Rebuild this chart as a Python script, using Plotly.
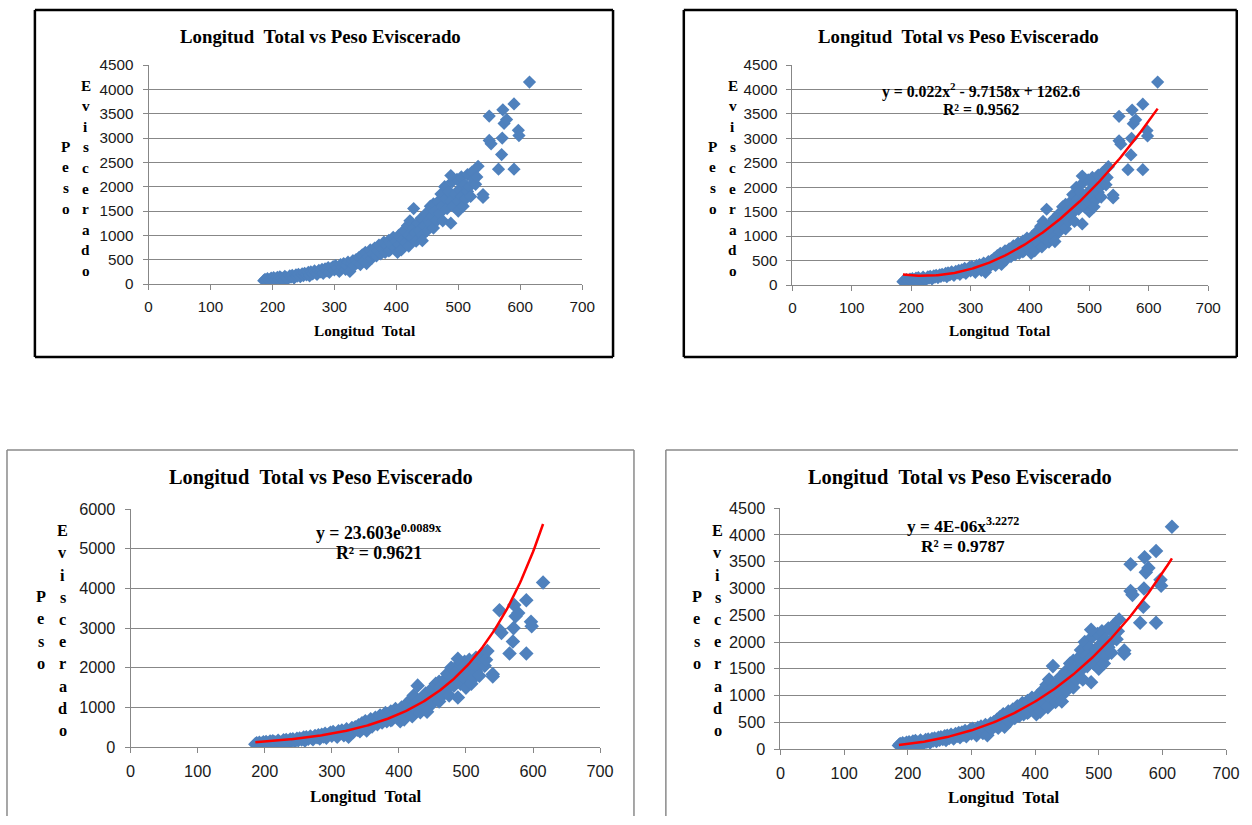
import numpy as np
import plotly.graph_objects as go

W, H = 1252, 825

# ---------------- data ----------------
longitud_total = [
    186, 188, 190, 192, 195, 198, 200, 202, 205, 208,
    210, 212, 215, 218, 220, 222, 225, 228, 230, 232,
    235, 238, 240, 242, 245, 248, 250,
    252, 255, 258, 260, 262, 265, 268, 270, 272, 275,
    278, 280, 282, 285, 288, 290, 292, 295, 298, 300,
    302, 305, 308, 310, 312, 315, 318, 320,
    322, 325, 328, 330, 332, 335, 338, 340, 342, 345,
    348, 350, 352, 355, 358, 360, 362, 365, 368, 370,
    372, 375, 378, 380, 382, 385, 388, 388, 390, 392,
    395, 398, 400,
    402, 404, 405, 408, 410, 412, 415, 418, 420, 420,
    422, 425, 428, 430, 432, 435, 438, 440, 442, 445,
    448, 450, 452, 455, 455, 458, 460, 460,
    462, 465, 468, 470, 472, 474, 475, 478, 480, 482,
    485, 488, 490, 492, 495, 498, 500, 500, 502, 505,
    505, 508, 510, 512, 515, 515, 518, 520, 522, 525,
    528, 530,
    428, 442, 488, 488, 532, 540, 540, 550, 550, 553,
    565, 570, 571, 572, 574, 578, 590, 590, 597, 598, 615,
]
peso_eviscerado = [
    70, 95, 60, 110, 85, 120, 75, 130, 100, 140,
    90, 150, 120, 80, 160, 130, 110, 170, 140, 180,
    125, 190, 160, 200, 150, 210, 175,
    220, 190, 240, 170, 250, 210, 270, 230, 200, 280,
    250, 300, 220, 310, 270, 340, 240, 320, 360, 290,
    380, 330, 260, 400, 350, 420, 300, 380,
    450, 260, 420, 480, 380, 500, 440, 550, 400, 600,
    480, 650, 420, 560, 700, 520, 620, 740, 580, 680,
    800, 620, 720, 860, 650, 780, 680, 900, 700, 820,
    960, 740, 880,
    650, 1000, 800, 700, 920, 1100, 850, 1200, 1000, 780,
    1300, 950, 1150, 1050, 880, 1250, 1100, 1350, 1000, 1200,
    1450, 1100, 1300, 1600, 1250, 1400, 1650, 1150,
    1500, 1300, 1700, 1450, 1850, 1600, 1300, 2000, 1750, 1550,
    1900, 1700, 2100, 1600, 1850, 2150, 1700, 1500, 1950, 2200,
    1800, 1600, 2050, 1750, 2250, 1900, 2000, 1800, 2300, 2150,
    2050, 2200,
    1550, 890, 2230, 1250, 2420, 1840, 1780, 3450, 2950, 2880,
    2360, 2660, 3000, 3580, 3300, 3380, 3700, 2360, 3160, 3050, 4150,
]

x_ticks = [0, 100, 200, 300, 400, 500, 600, 700]
y_ticks_4500 = [0, 500, 1000, 1500, 2000, 2500, 3000, 3500, 4000, 4500]
y_ticks_6000 = [0, 1000, 2000, 3000, 4000, 5000, 6000]

# trendline coefficients as shown in the chart
poly_coef = [0.022, -9.7158, 1262.6]
exp_a, exp_b = 23.603, 0.0089
pow_a, pow_b = 3.56e-6, 3.2272   # label shows rounded 4E-06

titulo = "Longitud\u00a0\u00a0Total vs Peso Eviscerado"
eje_x = "Longitud\u00a0\u00a0Total"
eje_y1 = "Peso"
eje_y2 = "Eviscerado"

eq_poly = ["y = 0.022x<sup>2</sup> - 9.7158x + 1262.6", "R\u00b2 = 0.9562"]
eq_exp = ["y = 23.603e<sup>0.0089x</sup>", "R\u00b2 = 0.9621"]
eq_pow = ["y = 4E-06x<sup>3.2272</sup>", "R\u00b2 = 0.9787"]

# ---------------- placement helpers ----------------
# positions below are given in picture pixels; the capture maps page pixels
# to picture pixels as  X = OX + SX*x,  Y = OY + SY*y  (measured), so invert it.
OX, OY, SX, SY = 5.0, 10.0, 0.988, 0.978
FS = 2.0 / (SX + SY)


def lx(x):
    return min(max((x - OX) / SX, 0.0), W)


def ly(y):
    return min(max((y - OY) / SY, 0.0), H)


def px(x):
    return lx(x) / W


def py(y):
    return 1 - ly(y) / H


xs = np.array(longitud_total, dtype=float)
xt = np.linspace(xs.min(), xs.max(), 200)
trend = {
    "poly": np.polyval(poly_coef, xt),
    "exp": exp_a * np.exp(exp_b * xt),
    "pow": pow_a * xt ** pow_b,
}

BLUE = "#4F81BD"
GRID = "#878787"
SERIF = "Liberation Serif"
SANS = "Liberation Sans"

panels = [
    dict(xd=(149, 584), yd=(285, 66), yr=4500, yt=y_ticks_4500, trend=None, eq=None,
         box=(35, 11, 615, 358), boxc="#000000", boxw=2.5,
         title=(322, 37, 18.5), xt=(366, 331, 15), tick=15,
         P=(66, 147, 20.7), E=(86, 86, 20.6), lf=15, msize=10),
    dict(xd=(795, 1212), yd=(286, 66), yr=4500, yt=y_ticks_4500, trend="poly", eq=(eq_poly, 984, 91, 110, 15.5),
         box=(686, 11, 1249, 358), boxc="#000000", boxw=2.5,
         title=(962, 37, 18.5), xt=(1003, 331, 15), tick=15,
         P=(715, 147, 20.7), E=(735, 86, 20.6), lf=15, msize=10),
    dict(xd=(131, 602), yd=(748, 510), yr=6000, yt=y_ticks_6000, trend="exp", eq=(eq_exp, 380, 533, 554, 17.5),
         box=(7, 451, 636, None), boxc="#8a8a8a", boxw=1.5,
         title=(322, 478, 20), xt=(367, 797, 16.5), tick=16,
         P=(41, 598, 22.3), E=(63, 532, 22.2), lf=16, msize=11),
    dict(xd=(783, 1230), yd=(750, 509), yr=4500, yt=y_ticks_4500, trend="pow", eq=(eq_pow, 966, 526, 547, 17),
         box=(668, 451, None, None), boxc="#8a8a8a", boxw=1.5,
         title=(963, 478, 20), xt=(1007, 798, 16.5), tick=16,
         P=(699, 598, 22.3), E=(720, 532, 22.2), lf=16, msize=11),
]

fig = go.Figure()
layout = dict(
    width=W, height=H, autosize=False,
    margin=dict(l=0, r=0, t=0, b=0),
    paper_bgcolor="white", plot_bgcolor="rgba(0,0,0,0)",
    showlegend=False,
)
annotations = []
shapes = []


def seg(x0, y0, x1, y1, color, width):
    return dict(type="line", xref="paper", yref="paper",
                x0=px(x0), x1=px(x1), y0=py(y0), y1=py(y1),
                line=dict(color=color, width=width), layer="below")


def note(text, x, y, size):
    return dict(text="<b>" + text + "</b>", x=px(x), y=py(y), xref="paper", yref="paper",
                xanchor="center", yanchor="middle", showarrow=False,
                font=dict(family=SERIF, size=size * FS, color="#000"))


for i, p in enumerate(panels):
    n = "" if i == 0 else str(i + 1)
    xa, ya = "x" + n, "y" + n
    layout["xaxis" + n] = dict(
        domain=[px(p["xd"][0]), px(p["xd"][1])], range=[0, 700], anchor=ya,
        tickvals=x_ticks, showgrid=False, zeroline=False,
        showline=True, linecolor=GRID, linewidth=1,
        ticks="outside", ticklen=5, tickcolor=GRID, tickwidth=1,
        tickfont=dict(family=SANS, size=p["tick"] * FS, color="#1a1a1a"),
        ticklabelstandoff=4, fixedrange=True,
    )
    layout["yaxis" + n] = dict(
        domain=[py(p["yd"][0]), py(p["yd"][1])], range=[0, p["yr"]], anchor=xa,
        tickvals=p["yt"], showgrid=True, gridcolor=GRID, gridwidth=1, zeroline=False,
        showline=True, linecolor=GRID, linewidth=1,
        ticks="outside", ticklen=5, tickcolor=GRID, tickwidth=1,
        tickfont=dict(family=SANS, size=p["tick"] * FS, color="#1a1a1a"),
        ticklabelstandoff=6, fixedrange=True,
    )
    fig.add_trace(go.Scatter(
        x=longitud_total, y=peso_eviscerado, mode="markers", xaxis=xa, yaxis=ya,
        marker=dict(symbol="diamond", size=p["msize"] * FS, color=BLUE, line=dict(width=0)),
    ))
    if p["trend"]:
        fig.add_trace(go.Scatter(
            x=xt, y=trend[p["trend"]], mode="lines", xaxis=xa, yaxis=ya,
            line=dict(color="#FF0000", width=2.5),
        ))
    # box (edges cut off in the picture are not drawn)
    bx0, by0, bx1, by1 = p["box"]
    c, w = p["boxc"], p["boxw"]
    ybot = by1 if by1 is not None else 900
    xr = bx1 if bx1 is not None else 1300
    if bx1 is not None and lx(bx1) > W - w / 2:
        xr = OX + SX * (W - w / 2)
    shapes.append(seg(bx0, by0, xr, by0, c, w))
    shapes.append(seg(bx0, by0, bx0, ybot, c, w))
    if bx1 is not None:
        shapes.append(seg(xr, by0, xr, ybot, c, w))
    if by1 is not None:
        shapes.append(seg(bx0, by1, xr, by1, c, w))
    # texts
    tx, ty, tf = p["title"]
    annotations.append(note(titulo, tx, ty, tf))
    gx, gy, gf = p["xt"]
    annotations.append(note(eje_x, gx, gy, gf))
    for word, (cx, cy, step) in ((eje_y1, p["P"]), (eje_y2, p["E"])):
        for k, ch in enumerate(word):
            annotations.append(note(ch, cx, cy + k * step, p["lf"]))
    if p["eq"]:
        lines, ex, ey1, ey2, ef = p["eq"]
        annotations.append(note(lines[0], ex, ey1, ef))
        annotations.append(note(lines[1], ex, ey2, ef))

layout["annotations"] = annotations
layout["shapes"] = shapes
fig.update_layout(**layout)

post = (
    "document.documentElement.style.margin='0';"
    "document.documentElement.style.overflow='hidden';"
    "document.body.style.margin='0';"
    "document.body.style.overflow='hidden';"
)
fig.write_html("out.html", post_script=post, config={"displayModeBar": False})
